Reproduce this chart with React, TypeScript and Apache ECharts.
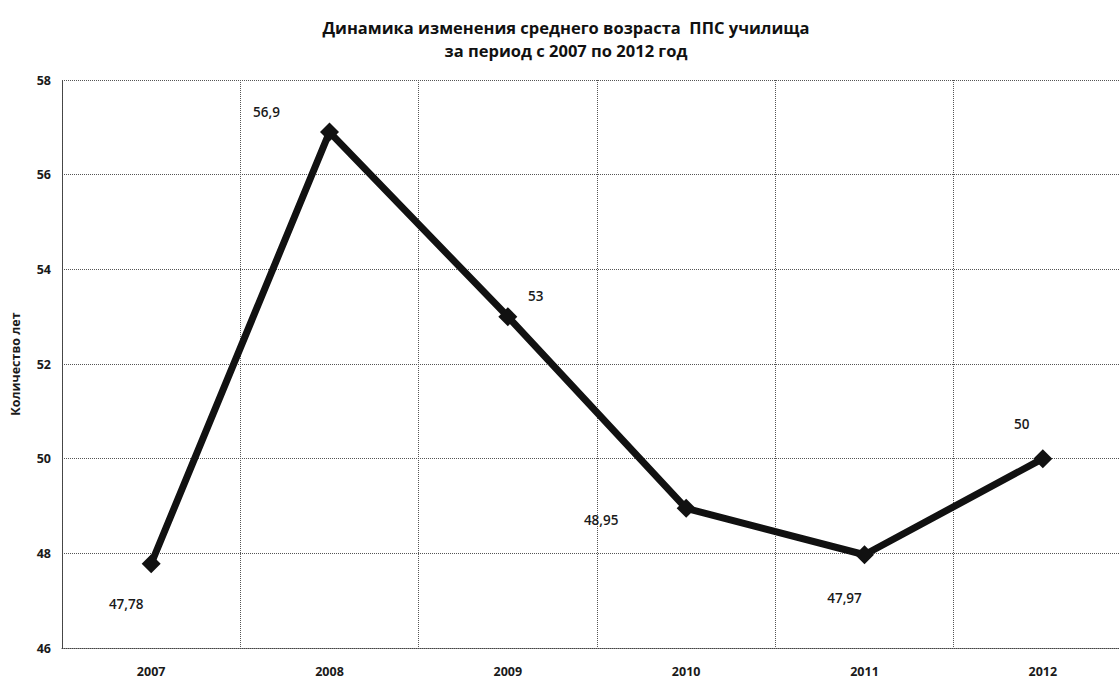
import React, { useEffect, useRef } from "react";
import * as echarts from "echarts";

const titleLine1 = "Динамика изменения среднего возраста  ППС училища";
const titleLine2 = "за период с 2007 по 2012 год";
const yAxisName = "Количество лет";
const years = ["2007", "2008", "2009", "2010", "2011", "2012"];
const ages = [47.78, 56.9, 53, 48.95, 47.97, 50];
const labelOffsets: [number, number][] = [
  [-25, 40],
  [-63, -20],
  [28, -21],
  [-85, 12],
  [-20, 43],
  [-21, -35],
];

export default function App() {
  const ref = useRef<HTMLDivElement>(null);
  useEffect(() => {
    if (!ref.current) return;
    const chart = echarts.init(ref.current, null, { renderer: "svg" });
    const font = "'Open Sans', 'DejaVu Sans', sans-serif";
    chart.setOption({
      animation: false,
      backgroundColor: "#ffffff",
      title: {
        text: titleLine1 + "\n" + titleLine2,
        left: "center",
        top: 11,
        textStyle: {
          fontFamily: font,
          fontSize: 16.5,
          fontWeight: "bold",
          color: "#111",
          lineHeight: 23,
        },
      },
      grid: { left: 62, right: 0, top: 80, bottom: 31, containLabel: false },
      xAxis: {
        type: "category",
        data: years,
        boundaryGap: true,
        axisLine: { show: true, lineStyle: { color: "#444", type: "dotted", width: 1 } },
        axisTick: { show: false },
        axisLabel: {
          fontFamily: font,
          fontSize: 12.5,
          fontWeight: "bold",
          color: "#1a1a1a",
          margin: 17,
        },
        splitLine: { show: true, lineStyle: { color: "#555", type: "dotted", width: 1 } },
      },
      yAxis: {
        type: "value",
        min: 46,
        max: 58,
        interval: 2,
        name: yAxisName,
        nameLocation: "middle",
        nameGap: 40,
        nameTextStyle: {
          fontFamily: font,
          fontSize: 12.5,
          fontWeight: "bold",
          color: "#1a1a1a",
        },
        axisLine: { show: true, lineStyle: { color: "#444", type: "dotted", width: 1 } },
        axisTick: { show: false },
        axisLabel: {
          fontFamily: font,
          fontSize: 12.5,
          fontWeight: "bold",
          color: "#1a1a1a",
          margin: 11,
        },
        splitLine: { show: true, lineStyle: { color: "#555", type: "dotted", width: 1 } },
      },
      series: [
        {
          type: "line",
          data: ages.map((v, i) => ({
            value: v,
            label: {
              show: true,
              position: "inside",
              offset: labelOffsets[i],
            },
          })),
          symbol: "diamond",
          symbolSize: 19,
          lineStyle: { color: "#111", width: 7 },
          itemStyle: { color: "#111" },
          label: {
            show: true,
            fontFamily: font,
            fontSize: 13.5,
            fontWeight: 600,
            color: "#1a1a1a",
            formatter: (p: any) => String(p.value).replace(".", ","),
          },
        },
      ],
    });
    return () => chart.dispose();
  }, []);
  return (
    <div
      ref={ref}
      style={{ position: "fixed", left: 0, top: 0, width: 1132, height: 679 }}
    />
  );
}
